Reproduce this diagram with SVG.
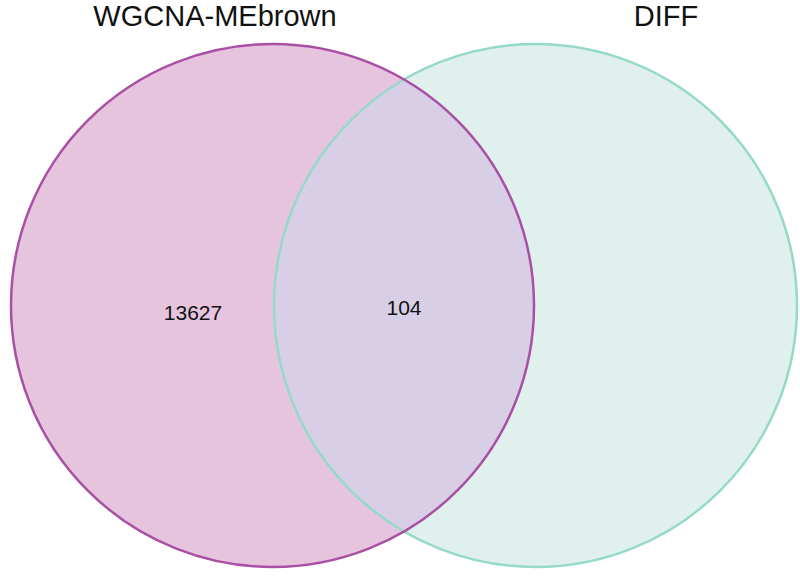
<svg xmlns="http://www.w3.org/2000/svg" width="800" height="578" viewBox="0 0 800 578">
<style>
.title{font-family:"Liberation Sans",Arial,sans-serif;font-size:29px;fill:#111;text-anchor:middle}
.num{font-family:"Liberation Sans",Arial,sans-serif;font-size:21px;fill:#111;text-anchor:middle}
</style>
<rect width="800" height="578" fill="#fff"/>
<g id="set-wgcna">
<circle cx="272.5" cy="305.5" r="261.5" fill="#e7c4de"/>
</g>
<g id="set-diff">
<circle cx="535.5" cy="305.5" r="261.5" fill="#dff0ed"/>
</g>
<g id="overlap">
<path d="M404 79 A261.5 261.5 0 0 1 404 532 A261.5 261.5 0 0 1 404 79 Z" fill="#d8cfe7"/>
</g>
<g id="outlines">
<circle cx="535.5" cy="305.5" r="261.5" fill="none" stroke="#95dac9" stroke-width="2.5"/>
<circle cx="272.5" cy="305.5" r="261.5" fill="none" stroke="#a950a5" stroke-width="2.5"/>
</g>
<g id="labels">
<text class="title" x="215" y="26">WGCNA-MEbrown</text>
<text class="title" x="666" y="26">DIFF</text>
<text class="num" x="193" y="320">13627</text>
<text class="num" x="404" y="315">104</text>
</g>
</svg>
